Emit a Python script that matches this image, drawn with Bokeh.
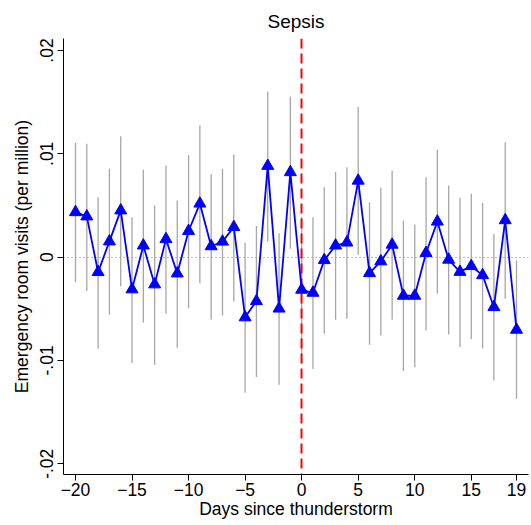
from bokeh.plotting import figure
from bokeh.models import FixedTicker, Range1d, ColumnDataSource
from bokeh.embed import file_html
from bokeh.resources import INLINE

days = list(range(-20, 20))
estimate = [0.00435, 0.00394, -0.00145, 0.00152, 0.00452, -0.00312, 0.00112, -0.00264,
            0.00174, -0.00158, 0.00253, 0.00518, 0.00105, 0.00150, 0.00291, -0.00583,
            -0.00426, 0.00883, -0.00498, 0.00822, -0.00316, -0.00345, -0.00029, 0.00112,
            0.00141, 0.00740, -0.00155, -0.00041, 0.00120, -0.00374, -0.00374, 0.00040,
            0.00344, -0.00025, -0.00143, -0.00087, -0.00175, -0.00484, 0.00357, -0.00703]
ci_upper = [0.01106, 0.01097, 0.00580, 0.00855, 0.01171, 0.00387, 0.00845, 0.00500,
            0.00887, 0.00548, 0.00987, 0.01274, 0.00803, 0.00855, 0.00994, 0.00139,
            0.00300, 0.01603, 0.00232, 0.01555, 0.00387, 0.00387, 0.00677, 0.00823,
            0.00871, 0.01452, 0.00532, 0.00671, 0.00839, 0.00355, 0.00316, 0.00774,
            0.01039, 0.00694, 0.00574, 0.00613, 0.00523, 0.00226, 0.01110, -0.00032]
ci_lower = [-0.00242, -0.00329, -0.00887, -0.00558, -0.00281, -0.01026, -0.00635, -0.01042,
            -0.00548, -0.00877, -0.00494, -0.00252, -0.00606, -0.00565, -0.00426, -0.01313,
            -0.01161, 0.00152, -0.01235, 0.00081, -0.01032, -0.01084, -0.00742, -0.00606,
            -0.00597, 0.00023, -0.00848, -0.00758, -0.00606, -0.01103, -0.01065, -0.00710,
            -0.00355, -0.00748, -0.00871, -0.00794, -0.00881, -0.01194, -0.00403, -0.01371]

x_ticks = [-20, -15, -10, -5, 0, 5, 10, 15, 19]
y_ticks = [-0.02, -0.01, 0, 0.01, 0.02]
y_tick_labels = ["-.02", "-.01", "0", ".01", ".02"]
event_day = [0]
zero_level = [0]

src = ColumnDataSource(dict(x=days, y=estimate, lo=ci_lower, hi=ci_upper))

FONT = "Liberation Sans"

p = figure(width=531, height=525, output_backend="svg", toolbar_location=None,
           x_range=Range1d(-21.06, 20.06), y_range=Range1d(-0.02104, 0.02116),
           min_border_left=63, min_border_right=3, min_border_top=38, min_border_bottom=51,
           title="Sepsis")
p.title.align = "center"
p.title.text_font = FONT
p.title.text_font_size = "19px"
p.title.text_font_style = "normal"
p.title.text_color = "black"
p.title.standoff = 13

p.outline_line_color = None
p.grid.visible = False
p.background_fill_color = "white"
p.border_fill_color = "white"

# zero reference line
p.hspan(y=zero_level, line_color="#808080", line_dash="1 3", line_width=1)

# error bars
p.segment(x0="x", y0="lo", x1="x", y1="hi", source=src, line_color="#a6a6a6", line_width=1.3)

# thunderstorm day
p.vspan(x=event_day, line_color="#ff0000", line_dash="10 5", line_width=2)

p.line("x", "y", source=src, line_color="#0000ff", line_width=1.8)
p.scatter("x", "y", source=src, marker="triangle", size=12,
          fill_color="#0000ff", line_color="#0000ff")

p.xaxis.ticker = FixedTicker(ticks=x_ticks)
p.yaxis.ticker = FixedTicker(ticks=y_ticks)
p.yaxis.major_label_overrides = {t: l for t, l in zip(y_ticks, y_tick_labels)}
p.yaxis.major_label_orientation = "vertical"

for ax in (p.xaxis, p.yaxis):
    ax.axis_line_color = "black"
    ax.axis_line_width = 1
    ax.major_tick_line_color = "black"
    ax.major_tick_out = 6
    ax.major_tick_in = 0
    ax.minor_tick_line_color = None
    ax.major_label_text_font = FONT
    ax.major_label_text_font_size = "17.5px"
    ax.major_label_text_color = "black"
    ax.axis_label_text_font = FONT
    ax.axis_label_text_font_size = "17.5px"
    ax.axis_label_text_font_style = "normal"
    ax.axis_label_text_color = "black"

p.xaxis.axis_label = "Days since thunderstorm"
p.yaxis.axis_label = "Emergency room visits (per million)"
p.xaxis.major_label_standoff = 2
p.xaxis.axis_label_standoff = 0
p.yaxis.major_label_standoff = 4
p.yaxis.axis_label_standoff = 6

open("out.html", "w").write(file_html(p, INLINE))
